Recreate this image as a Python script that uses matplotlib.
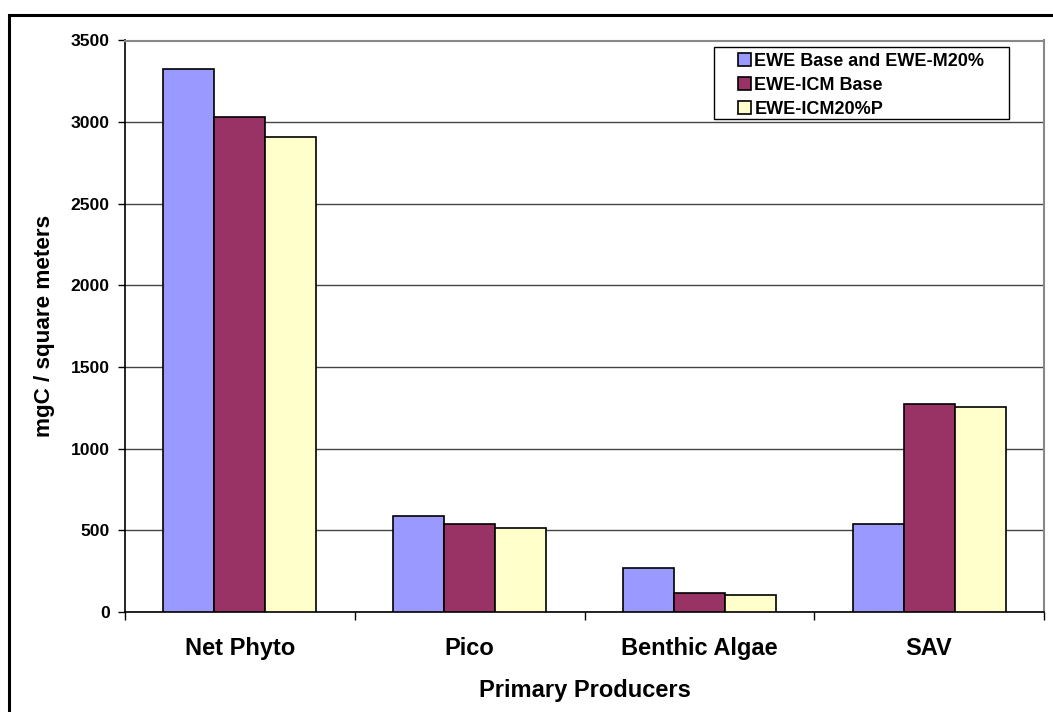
import numpy as np
import matplotlib
matplotlib.use("Agg")
import matplotlib.pyplot as plt
from matplotlib.patches import Rectangle

# ============================================
# DATA
# ============================================

categories = ["Net Phyto", "Pico", "Benthic Algae", "SAV"]

ewe_base = [3325, 590, 270, 537]
ewe_icm_base = [3030, 537, 114, 1276]
ewe_icm20 = [2910, 516, 106, 1258]

series_names = [
    "EWE Base and EWE-M20%",
    "EWE-ICM Base",
    "EWE-ICM20%P",
]
series_colors = ["#9999FF", "#993366", "#FFFFCC"]

y_ticks = [0, 500, 1000, 1500, 2000, 2500, 3000, 3500]

# ============================================
# PLOT
# ============================================

plt.rcParams["font.family"] = ["Liberation Sans", "DejaVu Sans"]
plt.rcParams["font.weight"] = "bold"

W, H = 1053, 712
fig = plt.figure(figsize=(W / 100, H / 100), dpi=100)
ax = fig.add_axes([125 / W, 1 - 612 / H, (1044 - 125) / W, (612 - 40.5) / H])

x = np.arange(len(categories))
bar_w = 2 / 9

for i, (vals, name, col) in enumerate(zip([ewe_base, ewe_icm_base, ewe_icm20], series_names, series_colors)):
    ax.bar(
        x + (i - 1) * bar_w,
        vals,
        width=bar_w,
        color=col,
        edgecolor="black",
        linewidth=1.2,
        label=name,
        zorder=3,
    )

ax.set_xlim(-0.5, len(categories) - 0.5)
ax.set_ylim(0, 3500)
ax.set_yticks(y_ticks)
ax.set_yticklabels([str(t) for t in y_ticks], fontsize=12.6, fontweight="bold")

ax.set_xticks(x)
ax.set_xticklabels(categories, fontsize=17, fontweight="bold")
ax.tick_params(axis="x", length=0, pad=18)
ax.set_xticks(np.arange(len(categories) + 1) - 0.5, minor=True)
ax.tick_params(axis="x", which="minor", length=6, width=1, direction="out")
ax.tick_params(axis="y", length=5, width=1, direction="out", pad=6)

ax.yaxis.grid(True, color="#444444", linewidth=1.0, zorder=0)
ax.set_axisbelow(True)

for side in ["left", "bottom"]:
    ax.spines[side].set_color("black")
    ax.spines[side].set_linewidth(1.2)
for side in ["top", "right"]:
    ax.spines[side].set_color("#888888")
    ax.spines[side].set_linewidth(1.5)

ax.set_xlabel("Primary Producers", fontsize=17, fontweight="bold", labelpad=14)
fig.text(45 / W, 1 - 326 / H, "mgC / square meters", rotation=90,
         ha="center", va="center", fontsize=16.2, fontweight="bold")

# legend (frame drawn separately to match the wider box)
leg = ax.legend(
    loc="upper left",
    bbox_to_anchor=(738 / W, 1 - 53 / H),
    bbox_transform=fig.transFigure,
    borderaxespad=0,
    borderpad=0,
    frameon=False,
    prop={"size": 13, "weight": "bold"},
    handlelength=0.7,
    handleheight=0.7,
    handletextpad=0.2,
    labelspacing=0.38,
)
leg.set_zorder(10)
ax.add_patch(
    Rectangle((714 / W, 1 - 118.7 / H), (1009 - 714) / W, (118.7 - 47.3) / H,
              transform=fig.transFigure, facecolor="white",
              edgecolor="black", linewidth=1.0, zorder=5, clip_on=False)
)

# outer chart frame
fig.patches.append(
    Rectangle((9 / W, -0.05), 1.1, 1 - 15 / H + 0.05,
              transform=fig.transFigure, fill=False,
              edgecolor="black", linewidth=2.2)
)

plt.savefig("out.png", dpi=100)
